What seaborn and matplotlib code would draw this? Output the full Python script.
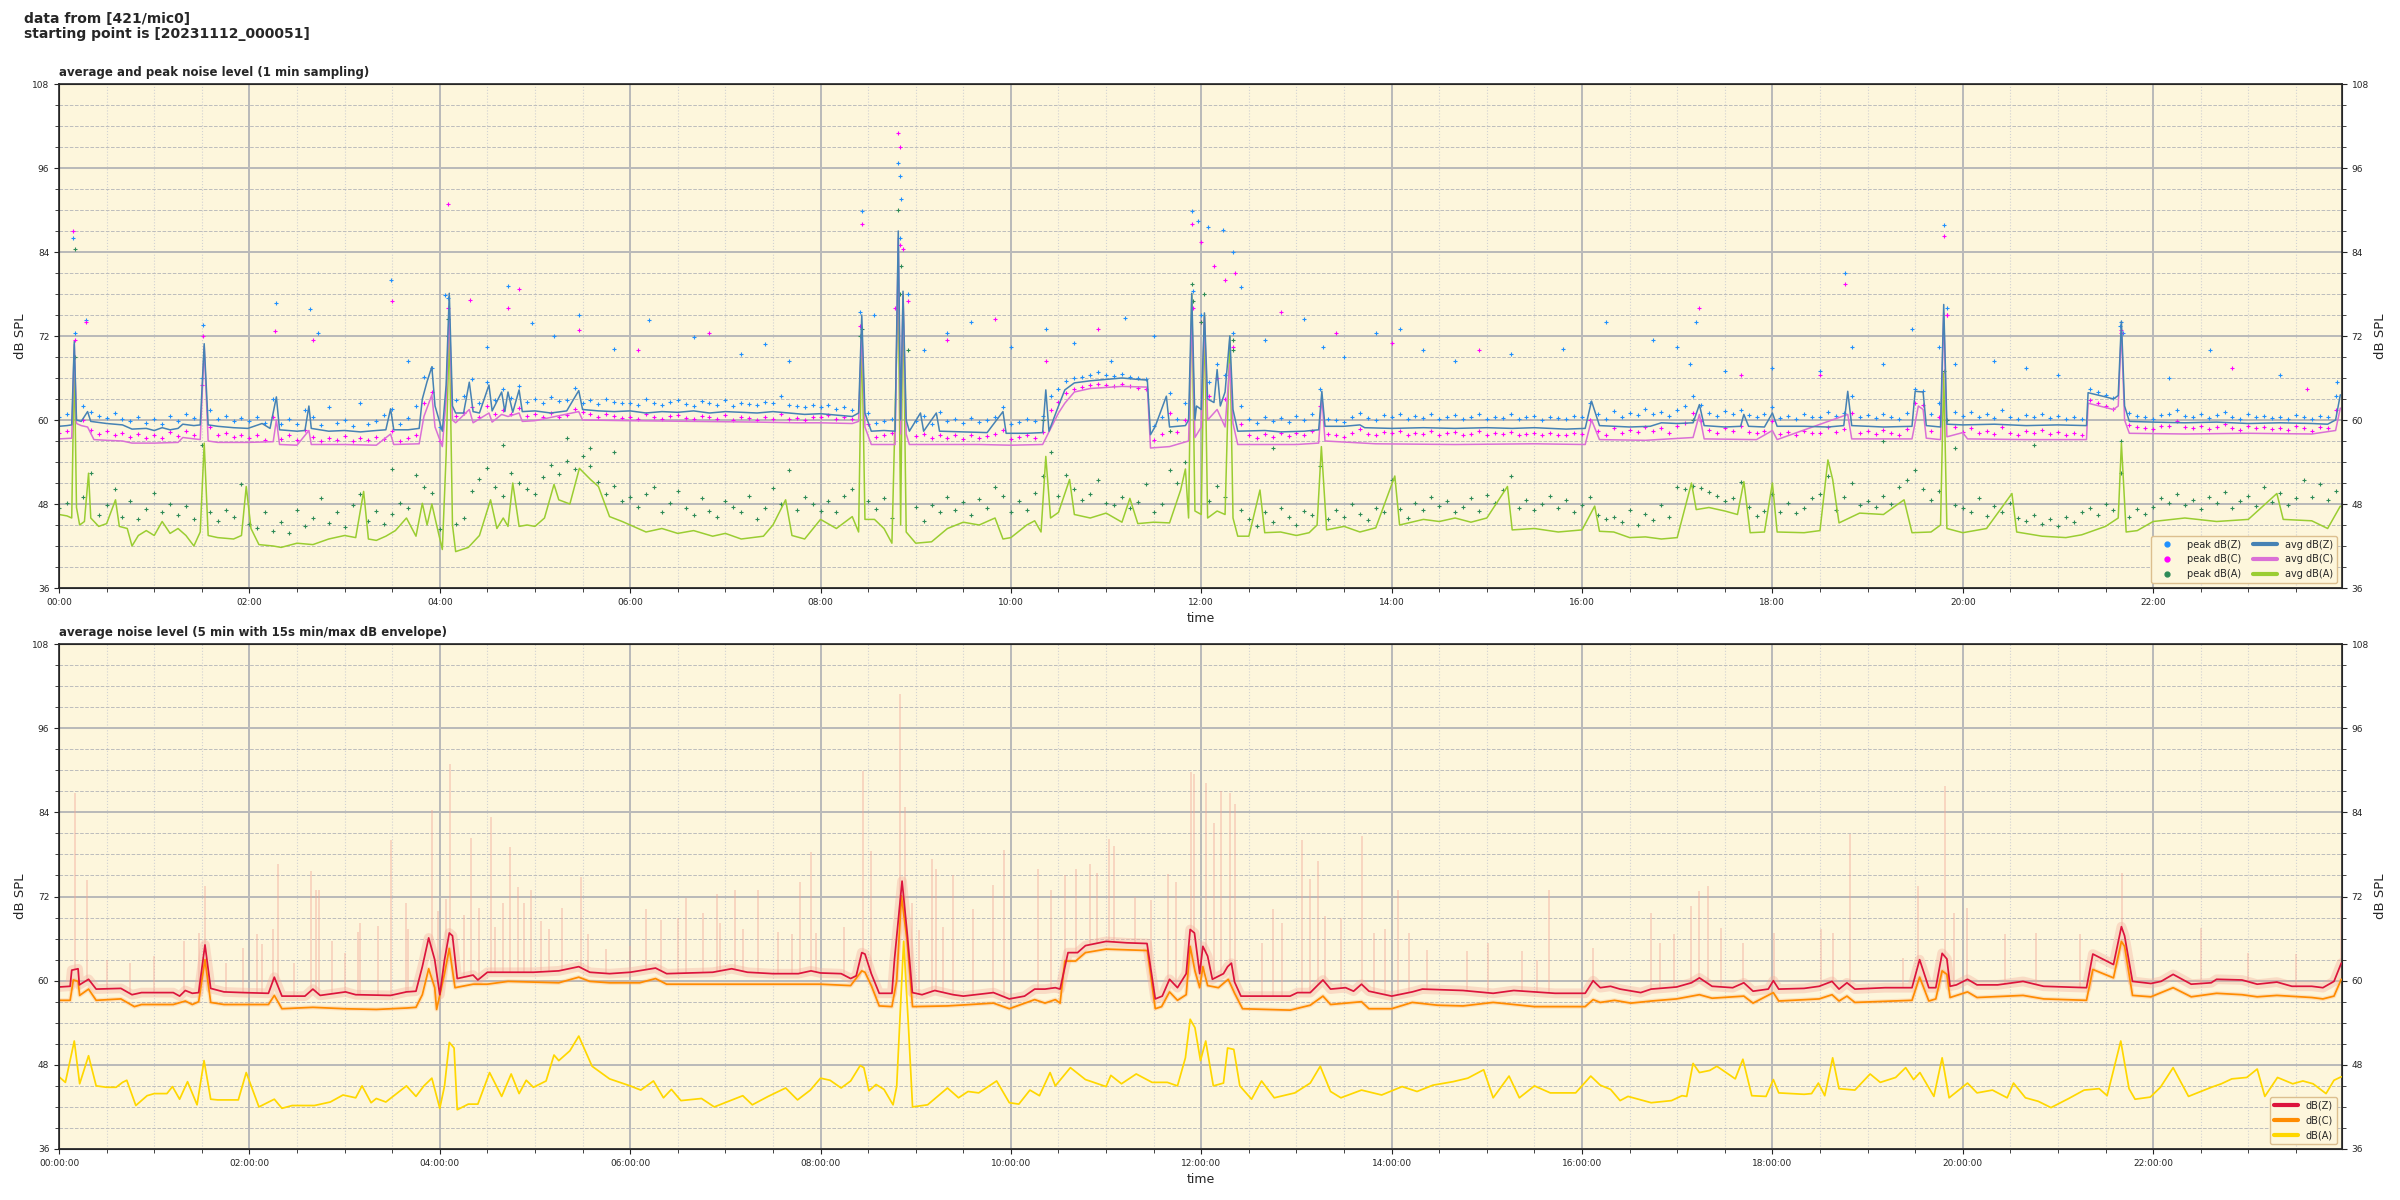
import numpy as np
import matplotlib
matplotlib.use("Agg")
import matplotlib.pyplot as plt
from matplotlib.ticker import MultipleLocator, FuncFormatter
from matplotlib.lines import Line2D
import seaborn as sns

sns.set_style("ticks")
plt.rcParams["font.family"] = ["DejaVu Sans"]

# --- data: (minute of day, dB SPL) ---

# top panel, 1 min averages (knots where the trace changes)
avg_z_top = [
    (0, 59.1), (5, 59.2), (8, 59.3), (9.6, 71.2), (11, 60.0), (14, 59.8), (18, 61.2), (20, 59.8), (30, 59.5),
    (40, 59.3), (46, 58.7), (55, 58.8), (60, 58.5), (65, 58.9), (70, 58.6), (75, 58.8), (78, 59.4), (85, 59.2),
    (89, 59.3), (91.5, 70.9), (94, 59.3), (100, 59.1), (110, 58.9), (119, 58.8), (128, 59.5), (133, 58.8),
    (137, 63.3), (139, 58.6), (150, 58.4), (155, 58.5), (157.5, 62.0), (159, 58.8), (170, 58.4), (180, 58.5),
    (190, 58.3), (200, 58.5), (206, 58.6), (209, 61.6), (211, 58.6), (220, 58.6), (227, 58.8), (229, 63.0),
    (232, 65.5), (235, 67.6), (237, 62.0), (241.6, 58.4), (244, 65.0), (246, 78.1), (248, 62.0), (250, 61.0),
    (255, 61.0), (258.6, 65.4), (261, 61.2), (265, 61.0), (271, 65.0), (273, 61.3), (279, 64.0), (281, 61.2),
    (283, 64.0), (286, 61.1), (290, 64.3), (292, 61.2), (300, 61.3), (310, 61.0), (320, 61.3), (327.6, 64.2),
    (330, 61.5), (340, 61.3), (350, 61.2), (360, 61.3), (370, 61.0), (380, 61.2), (390, 61.1), (400, 61.3),
    (410, 61.0), (420, 61.2), (430, 61.1), (440, 61.0), (450, 61.2), (460, 61.0), (470, 60.8), (480, 60.9),
    (490, 60.7), (500, 60.5), (504, 61.0), (506, 75.0), (508, 61.0), (512, 58.4), (520, 58.5), (527, 58.4),
    (529, 87.0), (530.5, 60.0), (532, 78.4), (534, 60.0), (536, 58.4), (543, 61.0), (545, 58.4), (553, 61.0),
    (555, 58.4), (570, 58.3), (585, 58.2), (595, 61.2), (597, 58.1), (610, 58.1), (620, 58.2), (622, 64.3),
    (624, 58.4), (630, 62.0), (634, 64.3), (640, 65.3), (650, 65.6), (660, 65.8), (670, 66.0), (680, 65.8),
    (686, 65.7), (688, 57.9), (691, 59.1), (698, 63.4), (700, 59.0), (710, 59.2), (712, 60.0), (714, 78.1),
    (716, 60.0), (717, 62.0), (720, 61.5), (722, 75.3), (724, 63.0), (728, 62.5), (730, 67.2), (732, 62.0),
    (735, 64.0), (738, 72.0), (740, 61.5), (743, 58.4), (760, 58.5), (770, 58.3), (785, 58.4), (794, 58.6),
    (796, 64.1), (798, 59.1), (810, 59.1), (820, 59.3), (823, 58.9), (840, 58.8), (860, 58.9), (880, 58.8),
    (900, 58.9), (916, 58.8), (930, 58.9), (950, 58.7), (962, 58.8), (966, 62.7), (971, 59.2), (990, 59.0),
    (1003, 59.1), (1010, 59.6), (1020, 59.5), (1030, 59.6), (1034, 62.2), (1037, 59.2), (1050, 59.0),
    (1060, 59.1), (1062, 60.8), (1065, 59.1), (1075, 59.0), (1080, 61.0), (1083, 59.1), (1100, 59.1),
    (1115, 59.0), (1125, 59.2), (1127.5, 64.1), (1130, 59.2), (1150, 59.0), (1168, 59.1), (1170, 64.1),
    (1175, 64.0), (1177, 59.2), (1186, 59.0), (1188, 76.5), (1190, 59.4), (1200, 59.3), (1220, 59.4),
    (1240, 59.2), (1260, 59.3), (1278, 59.2), (1279, 63.9), (1290, 63.3), (1295, 63.0), (1298, 63.5),
    (1300, 74.1), (1302, 62.0), (1305, 59.8), (1320, 59.7), (1340, 59.6), (1360, 59.7), (1380, 59.5),
    (1400, 59.6), (1420, 59.5), (1430, 59.4), (1435, 60.0), (1438, 63.6),
]
avg_c_top = [
    (0, 57.3), (8, 57.4), (9.6, 70.8), (11, 59.5), (14, 59.2), (18, 59.0), (22, 57.2), (30, 57.1), (40, 57.0),
    (46, 56.7), (60, 56.7), (75, 56.8), (78, 57.5), (89, 57.2), (91.5, 70.5), (94, 57.0), (100, 56.8),
    (119, 56.8), (135, 56.9), (137, 60.0), (139, 56.5), (150, 56.4), (157.5, 58.5), (159, 56.5), (180, 56.5),
    (200, 56.4), (209, 58.0), (211, 56.5), (227, 56.6), (230, 60.5), (235, 63.6), (237, 59.0), (241.6, 56.2),
    (244, 63.0), (246, 75.8), (248, 60.0), (250, 59.6), (258.6, 61.5), (261, 59.6), (271, 61.0), (273, 59.7),
    (279, 60.8), (283, 60.5), (290, 61.0), (292, 59.8), (300, 59.9), (327.6, 61.2), (330, 60.0), (360, 59.9),
    (400, 59.8), (440, 59.7), (465, 59.6), (480, 59.6), (500, 59.5), (504, 59.8), (506, 72.9), (508, 59.0),
    (512, 56.5), (527, 56.5), (529, 86.0), (530.5, 58.0), (532, 78.0), (534, 58.0), (536, 56.5), (580, 56.5),
    (600, 56.4), (620, 56.5), (630, 61.0), (634, 62.4), (640, 64.0), (650, 64.5), (670, 64.8), (686, 64.7),
    (688, 56.0), (700, 56.2), (712, 57.0), (714, 75.3), (716, 57.5), (720, 59.0), (722, 74.8), (724, 60.0),
    (730, 61.5), (735, 59.0), (738, 68.0), (740, 59.5), (743, 56.5), (780, 56.5), (794, 56.7), (796, 63.4),
    (798, 57.0), (830, 56.6), (880, 56.5), (930, 56.6), (962, 56.5), (966, 60.0), (971, 57.2), (1000, 57.1),
    (1030, 57.5), (1034, 60.8), (1037, 57.3), (1070, 57.2), (1080, 58.5), (1083, 57.2), (1127.5, 60.8),
    (1130, 57.3), (1168, 57.3), (1172, 62.0), (1175, 61.5), (1177, 57.4), (1186, 57.2), (1188, 75.3),
    (1190, 57.6), (1200, 58.2), (1203, 57.3), (1240, 57.2), (1278, 57.2), (1279, 62.4), (1295, 61.5),
    (1298, 62.0), (1300, 72.9), (1302, 60.0), (1305, 58.1), (1340, 58.0), (1380, 58.1), (1420, 58.0),
    (1435, 58.5), (1438, 61.7),
]
avg_a_top = [
    (0, 46.5), (5, 46.3), (8, 46.0), (9.6, 69.1), (11, 47.5), (13, 45.0), (16, 45.5), (18.6, 52.4), (20, 46.0),
    (25, 44.8), (30, 45.2), (35.6, 48.6), (38, 44.8), (43, 44.5), (46, 42.0), (50, 43.5), (55, 44.2), (60, 43.5),
    (65, 45.5), (70, 43.8), (75, 44.5), (80, 43.5), (85, 42.0), (89, 44.0), (91.5, 56.7), (94, 43.5), (100, 43.2),
    (110, 43.0), (115, 43.5), (118, 50.5), (121, 44.5), (126, 42.2), (135, 42.0), (140, 41.8), (150, 42.4),
    (160, 42.2), (170, 43.0), (180, 43.5), (187, 43.2), (192, 49.8), (195, 43.0), (200, 42.8), (206, 43.4),
    (212, 44.2), (219, 46.0), (225, 43.4), (229, 48.1), (232, 45.0), (235, 48.0), (238, 45.0), (241.6, 41.5),
    (244, 55.0), (246, 73.1), (248, 45.0), (250, 41.2), (258, 41.8), (265, 43.5), (272, 48.6), (276, 44.5),
    (280, 46.0), (283, 44.8), (286, 51.0), (290, 44.8), (295, 45.0), (300, 44.8), (306, 46.0), (312, 50.8),
    (315, 48.6), (322, 48.0), (328, 53.1), (335, 51.5), (340, 50.5), (347, 46.2), (355, 45.5), (360, 45.0),
    (370, 44.0), (380, 44.5), (390, 43.8), (400, 44.2), (412, 43.4), (420, 43.8), (430, 43.0), (444, 43.4),
    (450, 45.0), (458, 48.6), (462, 43.5), (470, 43.0), (480, 45.8), (490, 44.5), (500, 46.2), (504, 44.0),
    (506, 72.9), (508, 45.8), (514, 45.8), (520, 44.5), (525, 42.4), (529, 79.0), (530.5, 45.0), (532, 78.0),
    (534, 44.0), (540, 42.4), (550, 42.6), (560, 44.5), (570, 45.4), (580, 45.0), (590, 46.0), (595, 43.0),
    (600, 43.2), (610, 45.0), (615, 45.6), (619, 44.0), (622, 54.8), (625, 46.0), (630, 46.8), (637, 51.5),
    (640, 46.5), (650, 46.0), (660, 46.7), (670, 45.4), (675, 48.8), (680, 45.2), (690, 45.4), (700, 45.3),
    (707, 50.0), (710, 53.0), (712, 46.0), (714, 78.0), (716, 47.0), (720, 46.5), (722, 75.0), (724, 46.0),
    (730, 47.0), (735, 46.5), (738, 72.0), (740, 46.0), (743, 43.4), (750, 43.4), (757, 50.0), (760, 43.9),
    (770, 44.0), (780, 43.5), (788, 43.9), (793, 45.0), (795.7, 56.2), (799, 44.3), (810, 44.8), (820, 44.0),
    (830, 44.6), (842, 52.0), (845, 45.0), (860, 45.8), (870, 45.5), (880, 46.0), (890, 45.4), (900, 46.0),
    (913, 50.5), (916, 44.3), (930, 44.5), (945, 44.0), (960, 44.3), (968, 47.7), (971, 44.1), (980, 44.0),
    (990, 43.2), (1000, 43.3), (1010, 43.0), (1020, 43.2), (1029, 51.0), (1032, 47.2), (1040, 47.5),
    (1050, 47.0), (1058, 46.5), (1062, 51.2), (1066, 43.9), (1075, 44.0), (1080, 51.0), (1083, 44.0),
    (1100, 43.9), (1110, 44.2), (1115, 54.3), (1118, 51.5), (1122, 45.3), (1135, 46.7), (1150, 46.5),
    (1163, 48.6), (1168, 43.9), (1180, 44.0), (1186, 45.0), (1188, 66.7), (1190, 44.5), (1200, 43.9),
    (1215, 44.5), (1231, 49.5), (1234, 44.0), (1250, 43.4), (1265, 43.2), (1275, 43.6), (1290, 44.8),
    (1298, 46.0), (1300, 56.7), (1303, 44.0), (1310, 44.2), (1320, 45.5), (1340, 46.0), (1360, 45.5),
    (1380, 45.8), (1398, 49.5), (1402, 45.8), (1420, 45.6), (1430, 44.5), (1438, 47.7),
]

# top panel peaks, one value every 5 min (each row = 2 h)
peak_z = [
    60.5, 60.8, 72.5, 62.0, 61.2, 60.6, 60.3, 61.0, 60.2, 59.8, 60.4, 59.6, 60.1, 59.5, 60.6, 59.8, 60.9, 60.3, 66.0, 61.5, 60.2, 60.6, 59.9, 60.3,
    59.8, 60.4, 59.6, 63.0, 59.5, 60.2, 59.4, 61.5, 60.5, 59.3, 61.8, 59.6, 60.0, 59.2, 62.4, 59.5, 59.9, 60.7, 61.6, 59.4, 60.3, 62.0, 66.2, 67.5,
    59.0, 77.5, 62.8, 63.4, 65.8, 62.5, 65.5, 62.9, 64.5, 63.2, 64.8, 62.6, 63.0, 62.4, 63.3, 62.7, 62.9, 64.6, 62.5, 62.8, 62.3, 63.0, 62.6, 62.4,
    62.5, 62.2, 63.0, 62.4, 62.1, 62.6, 62.9, 62.3, 62.0, 62.7, 62.4, 62.2, 62.8, 62.0, 62.5, 62.3, 62.1, 62.6, 62.4, 63.5, 62.2, 62.0, 61.8, 62.1,
    61.9, 62.2, 61.6, 61.8, 61.4, 75.5, 61.0, 59.6, 59.9, 60.2, 86.0, 78.0, 59.8, 60.6, 59.5, 61.2, 59.8, 60.1, 59.6, 60.3, 59.7, 60.0, 60.5, 61.8,
    59.4, 59.7, 60.2, 59.9, 60.6, 63.5, 64.4, 65.6, 66.0, 66.2, 66.5, 66.8, 66.4, 66.3, 66.6, 66.2, 66.0, 65.9, 59.2, 60.5, 63.8, 60.2, 62.5, 78.5,
    75.0, 65.5, 68.0, 66.5, 72.5, 62.0, 60.1, 59.6, 60.4, 59.8, 60.3, 59.7, 60.6, 60.0, 60.8, 64.5, 60.2, 60.0, 59.7, 60.4, 61.0, 60.3, 60.0, 60.7,
    60.4, 60.9, 60.2, 60.6, 60.3, 60.8, 60.1, 60.5, 60.7, 60.2, 60.4, 60.9, 60.1, 60.5, 60.3, 60.8, 60.2, 60.4, 60.6, 60.0, 60.5, 60.3, 60.2, 60.6,
    60.4, 62.5, 60.8, 60.2, 61.3, 60.5, 61.0, 60.7, 61.6, 60.9, 61.2, 60.6, 61.4, 62.0, 63.5, 62.2, 61.0, 60.6, 61.3, 60.8, 61.5, 60.7, 60.5, 60.9,
    61.8, 60.3, 60.6, 60.2, 60.8, 60.4, 60.5, 61.2, 60.6, 61.0, 63.5, 60.4, 60.7, 60.3, 60.9, 60.5, 60.2, 61.0, 64.5, 64.2, 60.8, 62.5, 76.0, 61.2,
    60.6, 61.2, 60.4, 60.8, 60.3, 61.5, 60.5, 60.2, 60.7, 60.4, 60.9, 60.3, 60.6, 60.2, 60.5, 60.1, 64.5, 64.0, 63.6, 63.2, 74.0, 61.0, 60.6, 60.4,
    60.2, 60.7, 60.9, 61.5, 60.6, 60.4, 60.8, 60.3, 60.7, 61.2, 60.5, 60.2, 60.9, 60.4, 60.6, 60.3, 60.5, 60.2, 60.7, 60.4, 60.1, 60.6, 60.4, 63.5,
]
peak_c = [
    58.2, 58.5, 71.5, 60.0, 58.6, 58.0, 58.4, 57.8, 58.2, 57.6, 58.0, 57.4, 57.9, 57.5, 58.3, 57.7, 58.5, 57.9, 65.0, 59.0, 57.8, 58.1, 57.6, 57.9,
    57.4, 57.9, 57.2, 60.5, 57.3, 57.8, 57.1, 58.6, 57.6, 57.0, 57.5, 57.2, 57.7, 57.0, 57.4, 57.1, 57.6, 57.3, 58.5, 57.0, 57.5, 57.8, 62.5, 64.0,
    57.0, 76.0, 60.6, 61.0, 61.8, 60.5, 62.0, 60.8, 61.5, 60.9, 61.7, 60.6, 60.8, 60.4, 61.0, 60.5, 60.7, 61.6, 61.2, 60.8, 60.4, 60.9, 60.6, 60.3,
    60.5, 60.2, 60.8, 60.4, 60.1, 60.6, 60.7, 60.3, 60.2, 60.6, 60.4, 60.1, 60.7, 60.0, 60.4, 60.3, 60.0, 60.5, 60.2, 60.8, 60.1, 60.3, 60.0, 60.4,
    60.4, 60.7, 60.2, 60.5, 60.1, 73.5, 59.5, 57.6, 57.8, 58.2, 85.0, 77.0, 57.7, 58.0, 57.4, 57.9, 57.5, 57.8, 57.3, 57.9, 57.5, 57.7, 58.0, 58.6,
    57.3, 57.6, 57.9, 57.5, 58.3, 61.5, 62.6, 63.8, 64.5, 64.7, 65.0, 65.2, 65.0, 64.9, 65.1, 64.8, 64.6, 64.5, 57.2, 58.0, 61.0, 58.3, 60.0, 76.0,
    74.0, 63.5, 66.0, 63.0, 70.5, 59.5, 57.8, 57.5, 58.0, 57.6, 58.2, 57.7, 58.1, 57.8, 58.5, 62.0, 58.0, 57.9, 57.6, 58.2, 58.7, 58.0, 57.8, 58.3,
    58.1, 58.4, 57.8, 58.2, 58.0, 58.5, 57.9, 58.1, 58.3, 57.9, 58.0, 58.4, 57.8, 58.1, 58.0, 58.3, 57.9, 58.0, 58.2, 57.8, 58.1, 57.9, 57.8, 58.2,
    58.0, 60.0, 58.4, 57.9, 58.8, 58.1, 58.6, 58.3, 59.0, 58.4, 58.9, 58.2, 59.1, 59.6, 61.0, 59.8, 58.6, 58.2, 58.8, 58.4, 59.2, 58.3, 58.1, 58.5,
    59.8, 58.0, 58.3, 57.9, 58.5, 58.1, 58.2, 59.0, 58.3, 58.7, 61.0, 58.1, 58.4, 58.0, 58.6, 58.2, 57.9, 58.7, 62.5, 62.2, 58.5, 60.5, 75.0, 59.0,
    58.3, 58.9, 58.1, 58.5, 58.0, 59.0, 58.2, 57.9, 58.4, 58.1, 58.6, 58.0, 58.3, 57.9, 58.2, 57.8, 62.8, 62.4, 62.0, 61.6, 72.5, 59.3, 59.0, 58.8,
    58.7, 59.1, 59.2, 59.8, 59.0, 58.8, 59.2, 58.7, 59.0, 59.5, 58.9, 58.6, 59.2, 58.8, 59.0, 58.7, 58.9, 58.6, 59.1, 58.8, 58.5, 59.0, 58.8, 61.5,
]
peak_a = [
    47.5, 48.2, 69.0, 49.0, 52.5, 46.5, 47.8, 50.2, 46.2, 48.5, 45.9, 47.3, 49.6, 46.8, 48.0, 46.4, 47.7, 45.8, 56.5, 46.9, 45.6, 47.1, 46.2, 50.8,
    45.2, 44.6, 46.8, 44.1, 45.5, 43.9, 47.2, 44.8, 46.0, 48.8, 45.3, 46.9, 44.7, 47.8, 49.5, 45.6, 47.0, 45.1, 46.6, 48.2, 47.4, 52.2, 50.5, 49.6,
    44.5, 72.0, 45.2, 46.0, 49.8, 51.6, 53.2, 50.4, 49.1, 52.5, 51.0, 50.2, 49.4, 51.8, 53.6, 52.3, 54.1, 53.0, 54.8, 53.4, 51.2, 49.5, 50.6, 48.5,
    49.0, 47.6, 49.4, 50.5, 46.8, 48.2, 49.8, 47.5, 46.4, 48.9, 47.0, 46.2, 48.4, 47.6, 46.9, 49.2, 45.8, 47.4, 50.3, 48.0, 52.8, 47.2, 49.0, 48.0,
    47.0, 48.4, 46.9, 49.2, 50.2, 72.0, 48.5, 47.3, 48.8, 46.0, 78.0, 70.0, 47.6, 45.6, 47.9, 46.8, 49.0, 47.2, 48.3, 46.5, 48.7, 47.4, 50.5, 49.2,
    46.9, 48.4, 47.2, 49.6, 52.0, 55.5, 49.1, 52.2, 50.1, 48.6, 49.4, 51.5, 48.2, 47.8, 49.0, 47.5, 48.3, 50.8, 46.9, 48.0, 52.8, 51.0, 54.0, 77.0,
    74.0, 48.5, 50.6, 49.0, 71.5, 47.2, 45.9, 44.8, 46.8, 45.5, 47.4, 46.2, 45.0, 47.0, 46.4, 53.5, 45.8, 47.2, 46.1, 48.0, 46.6, 45.7, 47.5, 46.9,
    51.5, 47.3, 46.0, 48.2, 47.1, 49.0, 47.7, 48.5, 46.8, 47.6, 48.8, 47.0, 49.3, 48.1, 50.0, 52.0, 47.4, 48.6, 47.2, 48.0, 49.1, 47.5, 48.6, 46.8,
    47.9, 49.0, 46.5, 45.8, 46.2, 45.4, 47.2, 45.0, 46.6, 45.7, 47.8, 46.1, 50.5, 50.2, 50.6, 50.3, 49.7, 49.2, 48.4, 48.9, 51.2, 47.6, 46.3, 47.0,
    49.5, 46.9, 48.2, 46.7, 47.4, 48.8, 49.5, 52.0, 47.2, 49.0, 51.0, 47.8, 48.5, 47.6, 49.2, 48.0, 50.5, 51.5, 52.8, 50.2, 48.6, 49.8, 60.0, 47.9,
    47.4, 46.8, 48.9, 46.3, 47.7, 46.9, 48.2, 46.0, 45.6, 46.4, 45.1, 45.9, 44.8, 46.2, 45.4, 46.8, 47.5, 46.4, 48.0, 47.1, 52.5, 46.2, 47.3, 46.6,
    47.6, 48.9, 48.2, 49.4, 47.8, 48.6, 47.3, 49.0, 48.1, 49.7, 47.5, 48.4, 49.2, 47.7, 50.4, 48.3, 49.6, 47.9, 48.8, 51.5, 49.0, 50.8, 48.6, 49.8,
]
# isolated high peaks that stand out of the bands
peak_z_out = [
    (9, 86.0), (17, 74.3), (91, 73.6), (137, 76.7), (158, 75.8), (163, 72.4), (209, 80.0), (220, 68.5), (243, 77.9),
    (270, 70.5), (283, 79.1), (298, 73.9), (312, 72.0), (328, 75.0), (350, 70.2), (372, 74.3), (400, 71.8), (430, 69.5),
    (445, 70.8), (460, 68.5), (506, 89.8), (514, 75.0), (529, 96.7), (530, 94.9), (531, 91.6), (545, 70.0), (560, 72.5),
    (575, 74.0), (600, 70.5), (622, 73.0), (640, 71.0), (663, 68.5), (672, 74.6), (690, 72.0), (714, 89.8), (718, 88.5),
    (724, 87.6), (734, 87.2), (740, 84.0), (745, 79.0), (760, 71.5), (785, 74.5), (797, 70.5), (810, 69.0), (830, 72.5),
    (845, 73.0), (860, 70.0), (880, 68.5), (915, 69.5), (948, 70.2), (975, 74.0), (1005, 71.5), (1020, 70.5), (1028, 68.0),
    (1032, 74.0), (1050, 67.0), (1080, 67.5), (1110, 67.0), (1126, 81.0), (1130, 70.5), (1150, 68.0), (1168, 73.0),
    (1185, 70.5), (1188, 87.9), (1195, 68.0), (1220, 68.5), (1240, 67.5), (1260, 66.5), (1299, 73.5), (1301, 72.5),
    (1330, 66.0), (1356, 70.0), (1400, 66.5), (1436, 65.5),
]
peak_c_out = [
    (9, 87.0), (17, 74.0), (91, 72.0), (136, 72.7), (160, 71.5), (210, 77.0), (245, 90.9), (259, 77.1), (283, 76.0),
    (290, 78.7), (328, 72.9), (365, 70.0), (410, 72.5), (506, 88.0), (527, 76.0), (529, 101.0), (530, 99.0), (532, 84.4),
    (560, 71.5), (590, 74.5), (622, 68.5), (655, 73.0), (714, 88.0), (720, 85.5), (728, 82.0), (735, 80.0), (741, 81.0),
    (770, 75.5), (805, 72.5), (840, 71.0), (895, 70.0), (1034, 76.0), (1060, 66.5), (1110, 66.5), (1126, 79.5),
    (1188, 86.3), (1190, 75.0), (1300, 72.8), (1370, 67.5), (1417, 64.5),
]
peak_a_out = [
    (10, 84.5), (210, 53.0), (245, 74.5), (280, 56.5), (320, 57.5), (335, 56.0), (350, 55.5), (506, 73.0), (529, 90.0),
    (531, 82.0), (620, 60.0), (700, 58.5), (714, 79.5), (722, 78.0), (740, 70.0), (765, 56.0), (1030, 60.0), (1150, 57.0),
    (1188, 67.0), (1195, 56.0), (1245, 56.5), (1300, 57.0),
]

# bottom panel, 5 min averages
avg5_z = [
    (0, 59.1), (7, 59.2), (8, 61.5), (12, 61.7), (12.8, 59.4), (18.6, 60.2), (23.4, 58.8), (39, 58.9), (46, 58.0),
    (52, 58.3), (72, 58.3), (76, 57.8), (79.6, 58.6), (84, 58.2), (88, 58.3), (92, 65.1), (95.6, 58.9), (104, 58.4),
    (116, 58.3), (132, 58.2), (135.7, 60.5), (140.5, 57.8), (155, 57.8), (160, 58.8), (164.6, 57.9), (180.6, 58.4),
    (187, 58.0), (209, 57.9), (219, 58.4), (225, 58.5), (229, 62.0), (233, 66.1), (236.8, 63.0), (240, 58.0),
    (243, 63.0), (246, 66.8), (248, 66.4), (251, 60.3), (261, 60.8), (264, 60.1), (270, 61.2), (283, 61.2),
    (299, 61.2), (315, 61.4), (327.6, 62.0), (334.6, 61.2), (347, 61.0), (360, 61.2), (376, 61.8), (383, 61.0),
    (412, 61.2), (424, 61.7), (434, 61.2), (450, 61.0), (466, 61.0), (474, 61.4), (480, 61.1), (493, 61.0),
    (499, 60.3), (502.5, 60.7), (506, 64.0), (508, 63.8), (512, 61.0), (517, 58.2), (525, 58.2), (526.6, 63.0),
    (531.4, 74.2), (534.6, 66.8), (537.9, 58.3), (544, 58.0), (552, 58.6), (563.6, 58.0), (570, 57.8), (589, 58.3),
    (599, 57.4), (608.6, 57.8), (615, 58.8), (621.5, 58.8), (628, 59.0), (631, 58.8), (636, 64.0), (642, 64.0),
    (647, 65.0), (660, 65.6), (673, 65.4), (685.8, 65.3), (691, 57.4), (695.4, 57.8), (700, 60.2), (705, 59.0),
    (710.5, 61.0), (713, 67.3), (715.7, 66.8), (719, 61.0), (721, 64.9), (724, 63.5), (727, 60.2), (734, 61.0),
    (736.6, 62.0), (739, 62.5), (741, 59.8), (745, 57.8), (776, 57.8), (780.6, 58.3), (788.7, 58.3), (796.7, 60.1),
    (801.5, 58.8), (811, 59.0), (816, 58.5), (821, 59.5), (825.7, 58.5), (840, 57.8), (853, 58.4), (859.4, 58.8),
    (885, 58.6), (904, 58.2), (917, 58.6), (930, 58.4), (943, 58.2), (962, 58.2), (967, 60.0), (971.5, 59.0),
    (978, 59.2), (984, 58.8), (997, 58.3), (1003.6, 58.8), (1019.6, 59.1), (1029, 59.7), (1034, 60.4), (1042, 59.2),
    (1055, 59.0), (1062, 59.7), (1067.8, 58.5), (1077.4, 58.8), (1080.6, 60.0), (1084, 58.8), (1100, 58.9),
    (1109.5, 59.2), (1117.6, 59.9), (1122, 58.8), (1127, 59.7), (1132, 58.8), (1151, 59.0), (1168, 59.0),
    (1172.8, 63.0), (1178.6, 59.0), (1183, 59.0), (1187, 63.9), (1190, 63.1), (1192, 59.2), (1196, 59.4),
    (1203, 60.2), (1209, 59.4), (1222, 59.4), (1238, 59.9), (1251, 59.2), (1278, 59.0), (1282, 63.8), (1295, 62.3),
    (1300, 67.7), (1302, 66.4), (1307, 59.9), (1318.6, 59.6), (1325, 59.9), (1332.6, 60.9), (1344, 59.5),
    (1356.6, 59.7), (1360, 60.2), (1376, 60.1), (1385.6, 59.5), (1398, 59.8), (1407.5, 59.2), (1420, 59.2),
    (1427, 59.0), (1434, 59.9), (1438.6, 62.5),
]
avg5_c = [
    (0, 57.2), (7, 57.2), (9, 60.1), (12, 59.9), (13, 57.9), (18.6, 58.8), (23.4, 57.2), (39, 57.4), (47.5, 56.3),
    (52, 56.6), (72, 56.6), (79.6, 57.1), (84, 56.6), (88, 57.0), (92, 63.0), (95.6, 56.9), (104, 56.6), (132, 56.6),
    (135.7, 57.9), (140.5, 56.0), (160, 56.2), (180, 56.0), (200, 55.9), (209, 56.0), (219, 56.1), (225, 56.2),
    (229, 58.0), (233, 61.7), (236.8, 59.0), (238, 55.9), (243, 61.0), (246, 64.6), (249.6, 59.0), (261, 59.5),
    (270, 59.5), (283, 59.9), (315, 59.7), (327.6, 60.5), (334.6, 59.9), (347, 59.7), (366, 59.7), (376, 60.3),
    (383, 59.5), (420, 59.5), (465, 59.5), (480, 59.5), (499, 59.3), (506, 61.4), (508, 61.2), (512, 59.3),
    (517, 56.4), (525, 56.3), (528, 60.0), (531, 72.1), (534.6, 65.6), (538, 56.3), (560, 56.4), (589, 56.8),
    (599, 56.0), (615, 57.3), (621.5, 56.8), (628, 57.3), (631, 56.8), (634, 62.8), (640.8, 62.8), (647, 64.0),
    (660, 64.5), (686, 64.3), (691, 56.0), (695, 56.3), (700, 58.4), (705, 57.2), (710.5, 58.0), (713, 64.9),
    (716, 61.4), (719, 59.0), (721, 62.0), (724, 59.3), (730.8, 59.0), (737, 60.2), (741, 58.2), (746, 56.0),
    (776, 55.8), (788.7, 56.5), (796.7, 57.8), (801.5, 56.6), (821, 57.0), (825.7, 56.0), (840, 56.0), (853, 56.9),
    (869, 56.5), (885, 56.4), (904, 56.9), (930, 56.3), (962, 56.3), (967, 57.3), (971.5, 56.9), (980.5, 57.2),
    (990.8, 56.8), (1003.6, 57.1), (1019.6, 57.4), (1034, 58.0), (1042, 57.5), (1062, 57.8), (1067.8, 56.8),
    (1080.6, 58.3), (1084, 57.1), (1109.5, 57.4), (1117.6, 58.0), (1122, 57.1), (1127, 57.8), (1132, 56.9),
    (1168, 57.2), (1172.8, 60.5), (1178.6, 57.1), (1183, 57.4), (1187, 61.4), (1190, 60.9), (1192, 57.6),
    (1203, 58.4), (1209, 57.6), (1238, 57.9), (1251, 57.4), (1278, 57.2), (1282, 61.6), (1295, 60.4), (1300, 65.6),
    (1302, 64.9), (1307, 57.9), (1318.6, 57.7), (1332.6, 59.0), (1344, 57.7), (1360, 58.2), (1376, 58.0),
    (1385.6, 57.7), (1398, 57.9), (1420, 57.6), (1427, 57.4), (1434, 57.8), (1438.6, 60.2),
]
avg5_a = [
    (0, 46.3), (4, 45.5), (9.6, 51.4), (13, 45.3), (18.6, 49.3), (23.4, 45.0), (30, 44.8), (36, 44.8), (40, 45.5),
    (42.7, 45.8), (48.4, 42.2), (55.5, 43.6), (60, 43.9), (68, 43.9), (71.5, 44.9), (76, 43.1), (81, 45.6), (87, 42.3),
    (91.4, 48.6), (95.6, 43.1), (100, 43.0), (113, 43.0), (118, 46.9), (126, 42.0), (135.7, 43.1), (140.5, 41.8),
    (147, 42.2), (161, 42.2), (171, 42.7), (179, 43.7), (187, 43.3), (191, 45.0), (196.7, 42.6), (200, 43.2),
    (206, 42.7), (219, 45.0), (225, 43.5), (230, 45.0), (235, 46.1), (240, 41.8), (243, 45.0), (246, 51.2),
    (249, 50.4), (251, 41.6), (258, 42.4), (264, 42.4), (271.4, 46.9), (279, 43.5), (285, 46.7), (290, 43.9),
    (294.5, 45.8), (299, 44.8), (307, 45.7), (312, 49.4), (315, 48.6), (322, 50.0), (327.6, 52.1), (336, 47.8),
    (347, 46.0), (360, 45.0), (366.7, 44.4), (374.7, 45.7), (381, 43.3), (386, 44.5), (392, 42.9), (405, 43.2),
    (413, 42.0), (431, 43.6), (437, 42.3), (447, 43.5), (458, 44.7), (465.5, 43.0), (473.6, 44.4), (480, 46.1),
    (486, 45.8), (493, 44.7), (499, 45.7), (505, 47.9), (507.3, 47.6), (510.5, 44.3), (515, 45.2), (520, 44.5),
    (525.7, 42.3), (528, 44.9), (532.4, 65.6), (535.3, 54.0), (538, 42.0), (547.5, 42.3), (560, 44.7), (567, 43.3),
    (573, 44.2), (579.7, 44.0), (591, 45.7), (599, 42.6), (605, 42.4), (612, 44.4), (618, 43.6), (624.7, 46.9),
    (628, 45.0), (637.5, 47.6), (647, 45.9), (660, 44.9), (663, 46.5), (669.7, 45.3), (679, 46.7), (689, 45.5),
    (698.6, 45.5), (705, 45.0), (710, 49.0), (713, 54.5), (716, 53.3), (719.5, 48.6), (722.8, 51.4), (727.6, 45.0),
    (734, 45.4), (736.6, 50.4), (740.5, 50.2), (744.3, 45.0), (751.7, 43.1), (758, 45.7), (766, 43.3), (779, 44.0),
    (788.7, 45.4), (795, 47.8), (801.5, 44.2), (808, 43.3), (821, 44.4), (833.7, 43.7), (846.6, 44.9), (856, 44.2),
    (866, 45.1), (878.7, 45.6), (888, 46.1), (898, 47.3), (904, 43.3), (914, 46.4), (920.5, 43.3), (930, 45.0),
    (940, 44.0), (956, 44.0), (965.5, 46.4), (971.5, 45.1), (978, 44.5), (984, 42.9), (989, 43.5), (1003.6, 42.6),
    (1016.4, 42.9), (1023, 43.6), (1026, 43.5), (1030, 48.2), (1034, 46.9), (1040.5, 47.2), (1045, 47.8),
    (1056.6, 46.0), (1061.4, 48.8), (1067, 43.6), (1076, 43.5), (1080.6, 45.9), (1084, 44.0), (1100, 43.8),
    (1104.7, 43.9), (1109, 45.4), (1113, 43.6), (1118, 49.0), (1122, 44.6), (1132, 44.4), (1141.6, 46.7),
    (1148, 45.5), (1157.7, 46.2), (1164, 47.6), (1169, 45.9), (1173, 46.9), (1181.8, 43.5), (1187, 49.0),
    (1191.4, 43.3), (1203, 45.4), (1209, 44.0), (1218.7, 44.4), (1228, 43.3), (1232, 45.4), (1239.5, 43.3),
    (1247.6, 42.8), (1255.6, 41.9), (1266.8, 43.2), (1276.5, 44.4), (1286, 44.6), (1291, 43.6), (1299.6, 51.4),
    (1304.8, 44.6), (1308.6, 43.1), (1318.2, 43.4), (1324.6, 44.8), (1332.6, 47.6), (1342.3, 43.5), (1356.7, 44.8),
    (1363, 45.3), (1369.6, 46.0), (1379, 46.2), (1385.6, 47.4), (1390.4, 43.5), (1398.4, 46.2), (1408, 45.3),
    (1414.4, 45.7), (1420.8, 45.3), (1429, 43.9), (1434, 45.8), (1438.6, 46.3),
]
# 15 s max envelope spikes above the dB(Z) trace
envelope_max = [
    (10, 86.8), (17.6, 74.3), (30, 63.0), (45, 62.5), (60, 63.5), (79, 65.6), (88, 66.8), (92, 73.5), (105, 62.5),
    (116, 64.7), (124.5, 66.6), (128, 65.2), (134.7, 67.3), (138, 76.7), (148, 62.5), (159, 75.6), (162, 72.9),
    (164, 72.9), (172, 65.6), (180, 64.0), (188.6, 67.0), (190, 68.2), (200.8, 67.8), (209.5, 80.0), (218.5, 71.1),
    (220, 67.4), (235, 84.4), (239, 69.9), (243.8, 71.6), (246.7, 90.9), (255, 69.4), (259.5, 80.4), (265, 70.4),
    (272.4, 83.3), (275, 67.7), (280, 71.1), (284, 79.0), (289, 73.4), (293, 71.1), (297.7, 72.9), (303.5, 68.5),
    (309, 67.3), (317, 70.4), (329, 74.8), (333.6, 66.6), (345, 64.5), (360, 65.0), (370, 70.2), (379.5, 68.7),
    (390.4, 69.0), (395, 71.8), (406, 69.7), (414.8, 72.3), (416.7, 68.2), (426, 73.0), (431, 67.3), (440.5, 72.9),
    (453, 67.0), (462, 66.6), (467, 74.0), (474, 78.3), (477.4, 66.8), (495, 67.7), (507, 89.9), (512, 78.5),
    (530, 100.9), (533.5, 84.7), (537.6, 71.1), (542, 67.2), (550, 77.3), (553, 75.9), (557, 67.7), (563.6, 75.0),
    (575.8, 70.2), (589, 73.7), (595.7, 78.7), (617, 75.9), (625, 73.0), (634, 75.0), (640.8, 75.9), (649.8, 76.6),
    (654, 75.4), (661.7, 80.2), (665, 79.2), (678, 72.0), (688, 71.5), (699, 75.2), (704, 74.0), (713.8, 89.7),
    (715.7, 89.5), (722.8, 88.2), (728, 82.5), (732.4, 87.0), (738, 86.8), (741, 85.2), (758, 65.4), (765.5, 70.2),
    (771, 68.2), (783.8, 80.0), (788.7, 74.5), (793.5, 77.0), (798.3, 69.2), (808, 69.0), (821.5, 80.6),
    (828.8, 66.8), (836, 67.3), (844, 73.0), (851, 66.8), (862.6, 64.4), (887.7, 64.2), (900.6, 65.4), (922, 64.2),
    (931.5, 63.0), (939, 72.9), (967, 64.6), (1003.6, 69.7), (1009, 65.4), (1018, 66.6), (1029, 70.6), (1034, 72.8),
    (1039.5, 73.5), (1047.6, 67.5), (1061.4, 65.4), (1081, 66.8), (1110.5, 67.3), (1118, 66.8), (1128.8, 80.9),
    (1162.5, 63.2), (1172, 73.5), (1188.6, 87.8), (1194.6, 69.7), (1202.6, 70.4), (1226.7, 66.6), (1246, 66.8),
    (1274, 66.7), (1300.5, 75.4), (1350, 67.5), (1380, 64.0), (1410, 63.8), (1438.6, 71.8),
]

# --- styling ---
BG = "#fdf6dc"
YMIN, YMAX = 36, 108
TMAX = 1439
peak_grid = np.arange(0, 1440, 5)


def unzip(pairs):
    t, v = zip(*pairs)
    return np.array(t), np.array(v)


def hhmm(m, pos):
    return f"{int(m // 60):02d}:{int(round(m % 60)):02d}"


def hhmmss(m, pos):
    return f"{int(m // 60):02d}:{int(round(m % 60)):02d}:00"


def style_axis(ax, fmt):
    ax.set_facecolor(BG)
    ax.set_xlim(0, TMAX)
    ax.set_ylim(YMIN, YMAX)
    ax.set_axisbelow(True)
    ax.xaxis.set_major_locator(MultipleLocator(120))
    ax.xaxis.set_minor_locator(MultipleLocator(30))
    ax.xaxis.set_major_formatter(FuncFormatter(fmt))
    ax.yaxis.set_major_locator(MultipleLocator(12))
    ax.yaxis.set_minor_locator(MultipleLocator(3))
    ax.grid(which="major", color="#b9b9b9", lw=1.4)
    ax.xaxis.grid(which="minor", color="#d2d2d2", lw=0.8, ls=":")
    ax.yaxis.grid(which="minor", color="#bdbdbd", lw=0.7, ls="--")
    ax.tick_params(which="both", labelsize=6.5, direction="out")
    ax.tick_params(which="minor", length=3)
    ax.set_xlabel("time", fontsize=9)
    ax.set_ylabel("dB SPL", fontsize=9.5)
    for sp in ax.spines.values():
        sp.set_linewidth(1.2)
    right = ax.twinx()
    right.set_ylim(YMIN, YMAX)
    right.yaxis.set_major_locator(MultipleLocator(12))
    right.yaxis.set_minor_locator(MultipleLocator(3))
    right.tick_params(which="both", labelsize=6.5)
    right.tick_params(which="minor", length=3)
    right.set_ylabel("dB SPL", fontsize=9.5)
    return right


fig = plt.figure(figsize=(24, 12), dpi=100)
fig.text(0.01, 0.99, "data from [421/mic0]\nstarting point is [20231112_000051]",
         fontsize=10, fontweight="bold", va="top", ha="left", linespacing=1.05)

# --- top panel: 1 min averages and peaks ---
ax1 = fig.add_axes([0.0246, 0.51, 0.9512, 0.42])
style_axis(ax1, hhmm)
ax1.set_title("average and peak noise level (1 min sampling)", loc="left",
              fontsize=8.5, fontweight="bold")

peak_colors = {"Z": "#1e90ff", "C": "#ff00ff", "A": "#2e8b57"}
for name, band, extra in [("Z", peak_z, peak_z_out), ("C", peak_c, peak_c_out), ("A", peak_a, peak_a_out)]:
    et, ev = unzip(extra)
    xs = np.concatenate([peak_grid, et])
    ys = np.concatenate([np.array(band), ev])
    sns.scatterplot(x=xs, y=ys, ax=ax1, marker="+", s=9, linewidth=0.8,
                    color=peak_colors[name], legend=False, zorder=3)

avg_colors = {"Z": "#4682b4", "C": "#da70d6", "A": "#9acd32"}
for name, series in [("A", avg_a_top), ("C", avg_c_top), ("Z", avg_z_top)]:
    t, v = unzip(series)
    sns.lineplot(x=t, y=v, ax=ax1, color=avg_colors[name], lw=1.1,
                 estimator=None, sort=False, legend=False, zorder=4)

handles = [Line2D([], [], marker="o", ls="", ms=3.5, color=peak_colors[k], label=f"peak dB({k})") for k in "ZCA"]
handles += [Line2D([], [], lw=3, color=avg_colors[k], label=f"avg dB({k})") for k in "ZCA"]
ax1.legend(handles=handles, loc="lower right", ncol=2, fontsize=7, facecolor=BG,
           edgecolor="#dcbf8f", framealpha=1, columnspacing=1.2, handlelength=2.5,
           borderaxespad=0.5)

# --- bottom panel: 5 min averages with 15 s envelope ---
ax2 = fig.add_axes([0.0246, 0.0425, 0.9512, 0.4208])
style_axis(ax2, hhmmss)
ax2.set_title("average noise level (5 min with 15s min/max dB envelope)", loc="left",
              fontsize=8.5, fontweight="bold")

zt, zv = unzip(avg5_z)
ct, cv = unzip(avg5_c)
at, av = unzip(avg5_a)
st, sv = unzip(envelope_max)

# envelope band hugging the traces, then the max spikes
sns.lineplot(x=zt, y=zv, ax=ax2, color="#f2a999", lw=7, alpha=0.35,
             estimator=None, sort=False, legend=False, zorder=2)
sns.lineplot(x=ct, y=cv, ax=ax2, color="#ffb070", lw=3, alpha=0.3,
             estimator=None, sort=False, legend=False, zorder=2)
ax2.vlines(st, np.interp(st, zt, zv), sv, color="#f2a999", lw=1.3, alpha=0.45, zorder=2)

line_colors = {"Z": "#dc143c", "C": "#ff8c00", "A": "#ffd700"}
for name, t, v in [("A", at, av), ("C", ct, cv), ("Z", zt, zv)]:
    sns.lineplot(x=t, y=v, ax=ax2, color=line_colors[name], lw=1.25,
                 estimator=None, sort=False, legend=False, zorder=4)

handles2 = [Line2D([], [], lw=3, color=line_colors[k], label=f"dB({k})") for k in "ZCA"]
ax2.legend(handles=handles2, loc="lower right", fontsize=7, facecolor=BG,
           edgecolor="#dcbf8f", framealpha=1, handlelength=2.5, borderaxespad=0.5)

fig.savefig("out.png", dpi=100)
